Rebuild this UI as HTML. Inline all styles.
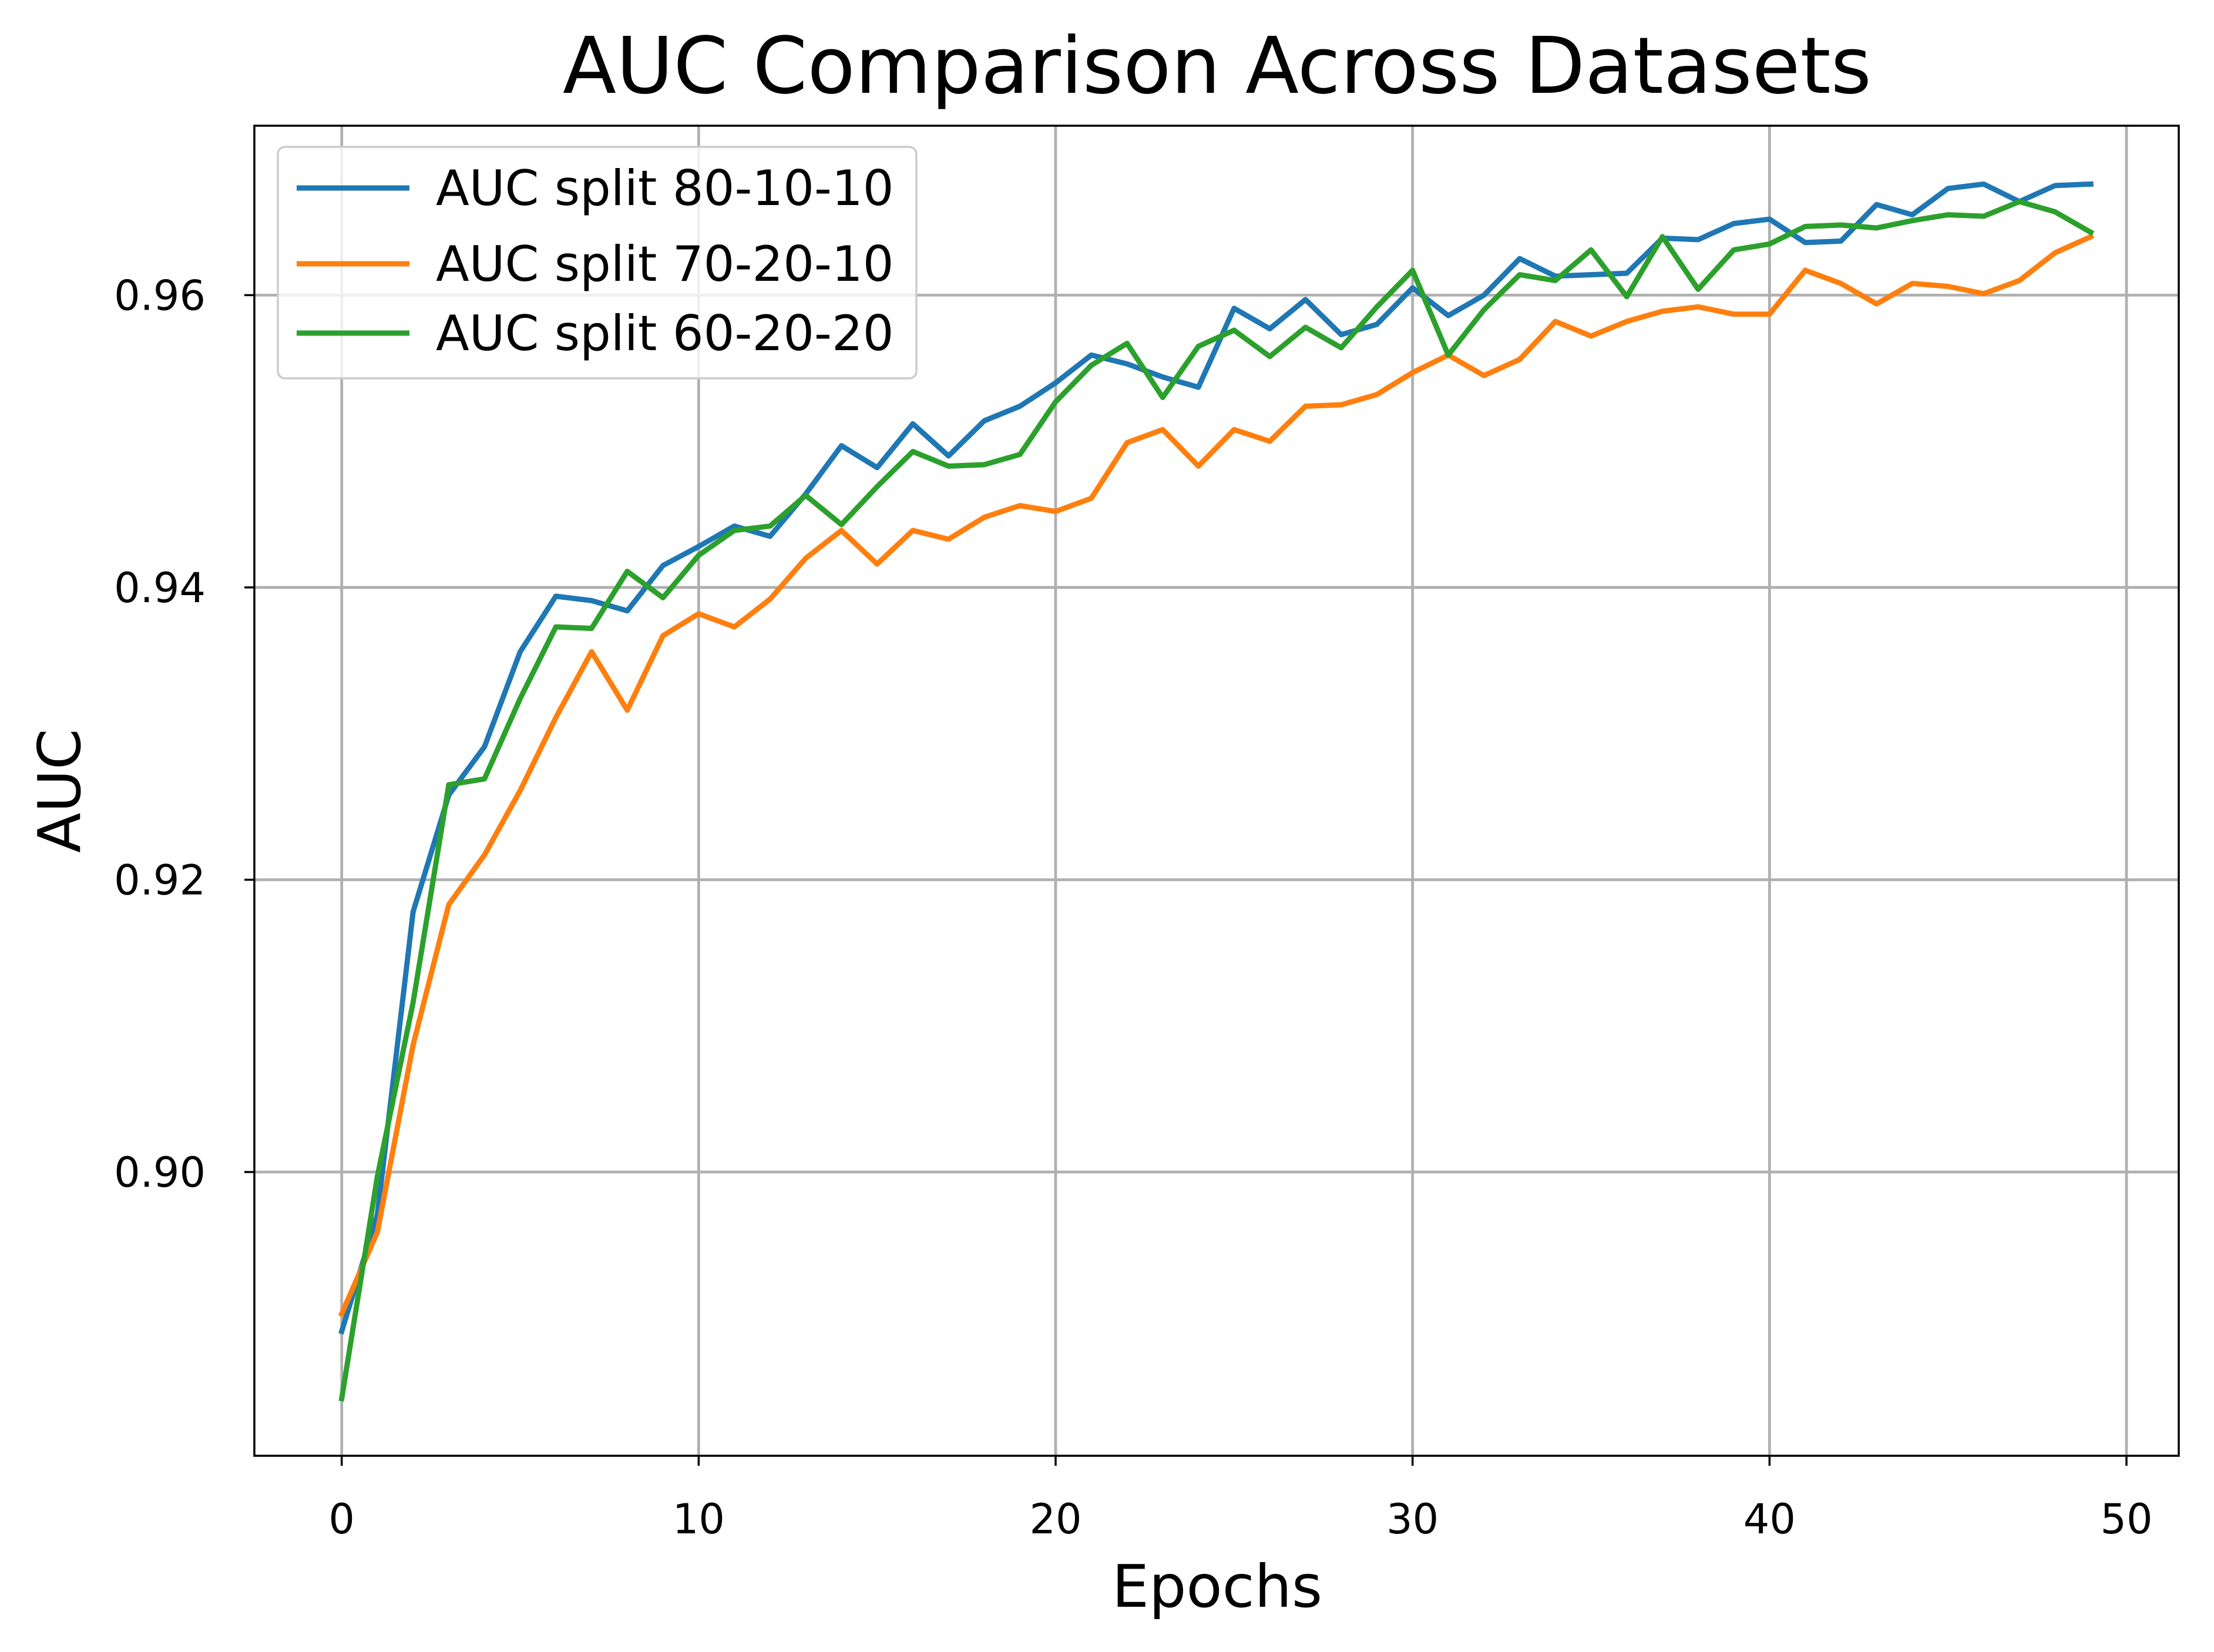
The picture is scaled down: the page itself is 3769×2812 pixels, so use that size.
<!DOCTYPE html>
<html><head><meta charset="utf-8"><style>
html,body{margin:0;padding:0;background:#fff;}
svg{display:block;font-family:"DejaVu Sans","Liberation Sans",sans-serif;}
</style></head><body>
<svg id="chart" width="3769" height="2812" viewBox="0 0 3769 2812">
<rect x="0" y="0" width="3769" height="2812" fill="#fff"/>
<g id="grid"></g>
<g id="series"></g>
<rect x="433" y="214" width="3276" height="2264" fill="none" stroke="#000" stroke-width="3.5"/>
<g id="ticks"></g>
<text x="2072" y="158" font-size="133" text-anchor="middle">AUC Comparison Across Datasets</text>
<text x="2072" y="2735" font-size="100" text-anchor="middle">Epochs</text>
<text x="0" y="0" font-size="100" text-anchor="middle" transform="translate(136,1346) rotate(-90)">AUC</text>
<g id="legend">
<rect x="473" y="250" width="1087" height="394" rx="12" fill="#fff" fill-opacity="0.8" stroke="#ccc" stroke-width="3.5"/>
</g>
</svg>
<script>
const epochs = Array.from({length:50},(_,i)=>i);
const auc801010 = [0.8891,0.8971,0.9178,0.9258,0.9291,0.9356,0.9394,0.9391,0.9384,0.9415,0.9428,0.9442,0.9435,0.9464,0.9497,0.9482,0.9512,0.9490,0.9514,0.9524,0.9540,0.9559,0.9553,0.9544,0.9537,0.9591,0.9577,0.9597,0.9573,0.9580,0.9605,0.9586,0.9600,0.9625,0.9613,0.9614,0.9615,0.9639,0.9638,0.9649,0.9652,0.9636,0.9637,0.9662,0.9655,0.9673,0.9676,0.9664,0.9675,0.9676];
const auc702010 = [0.8903,0.8959,0.9087,0.9183,0.9217,0.9261,0.9311,0.9356,0.9316,0.9367,0.9382,0.9373,0.9392,0.9420,0.9439,0.9416,0.9439,0.9433,0.9448,0.9456,0.9452,0.9461,0.9499,0.9508,0.9483,0.9508,0.9500,0.9524,0.9525,0.9532,0.9547,0.9559,0.9545,0.9556,0.9582,0.9572,0.9582,0.9589,0.9592,0.9587,0.9587,0.9617,0.9608,0.9594,0.9608,0.9606,0.9601,0.9610,0.9629,0.9640];
const auc602020 = [0.8845,0.8997,0.9116,0.9265,0.9269,0.9324,0.9373,0.9372,0.9411,0.9393,0.9422,0.9439,0.9442,0.9463,0.9443,0.9469,0.9493,0.9483,0.9484,0.9491,0.9527,0.9552,0.9567,0.9530,0.9565,0.9576,0.9558,0.9578,0.9564,0.9592,0.9617,0.9559,0.9590,0.9614,0.9610,0.9631,0.9599,0.9640,0.9604,0.9631,0.9635,0.9647,0.9648,0.9646,0.9651,0.9655,0.9654,0.9664,0.9657,0.9643];
const seriesNames = ["AUC split 80-10-10","AUC split 70-20-10","AUC split 60-20-20"];
const xTicks = [0,10,20,30,40,50];
const yTicks = [0.90,0.92,0.94,0.96];
const yTickLabels = ["0.90","0.92","0.94","0.96"];

const NS="http://www.w3.org/2000/svg";
const X0=581.7, X50=3620, YA=502.4, YB=1995;
const xs=v=>X0+(X50-X0)*v/50;
const ys=v=>YB+(YA-YB)*(v-0.90)/0.06;
function mk(tag,attrs,parent){const e=document.createElementNS(NS,tag);for(const k in attrs)e.setAttribute(k,attrs[k]);parent.appendChild(e);return e;}
const grid=document.getElementById('grid'),ticks=document.getElementById('ticks'),ser=document.getElementById('series'),leg=document.getElementById('legend');
xTicks.forEach(t=>{
  const g=mk('line',{x1:xs(t),x2:xs(t),y1:214,y2:2478,stroke:'#b0b0b0','stroke-width':4.8},grid);
  
  
  const m=mk('line',{x1:xs(t),x2:xs(t),y1:2478,y2:2495,stroke:'#000','stroke-width':3.5},ticks);
  
  
  const l=mk('text',{x:xs(t),y:2610,'font-size':70,'text-anchor':'middle'},ticks);
  l.textContent=String(t);
  
  
});
yTicks.forEach((t,i)=>{
  const g=mk('line',{x1:433,x2:3709,y1:ys(t),y2:ys(t),stroke:'#b0b0b0','stroke-width':4.8},grid);
  
  
  const m=mk('line',{x1:416,x2:433,y1:ys(t),y2:ys(t),stroke:'#000','stroke-width':3.5},ticks);
  
  
  const l=mk('text',{x:350,y:ys(t)+25,'font-size':70,'text-anchor':'end'},ticks);
  l.textContent=yTickLabels[i];
  
  
});
const data=[auc801010,auc702010,auc602020], colors=['#1f77b4','#ff7f0e','#2ca02c'], ids=['line-80-10-10','line-70-20-10','line-60-20-20'];
data.forEach((d,k)=>{
  const p=mk('polyline',{points:epochs.map((e,i)=>xs(e)+','+ys(d[i])).join(' '),fill:'none',stroke:colors[k],'stroke-width':9,'stroke-linejoin':'round','stroke-linecap':'square'},ser);
  
  
  const ly=[320,449,567][k];
  const ll=mk('line',{x1:505,x2:697,y1:ly,y2:ly,stroke:colors[k],'stroke-width':9},leg);
  
  
  const lt=mk('text',{x:742,y:ly+29,'font-size':83},leg);
  lt.textContent=seriesNames[k];
  
  
});
</script>
</body></html>
